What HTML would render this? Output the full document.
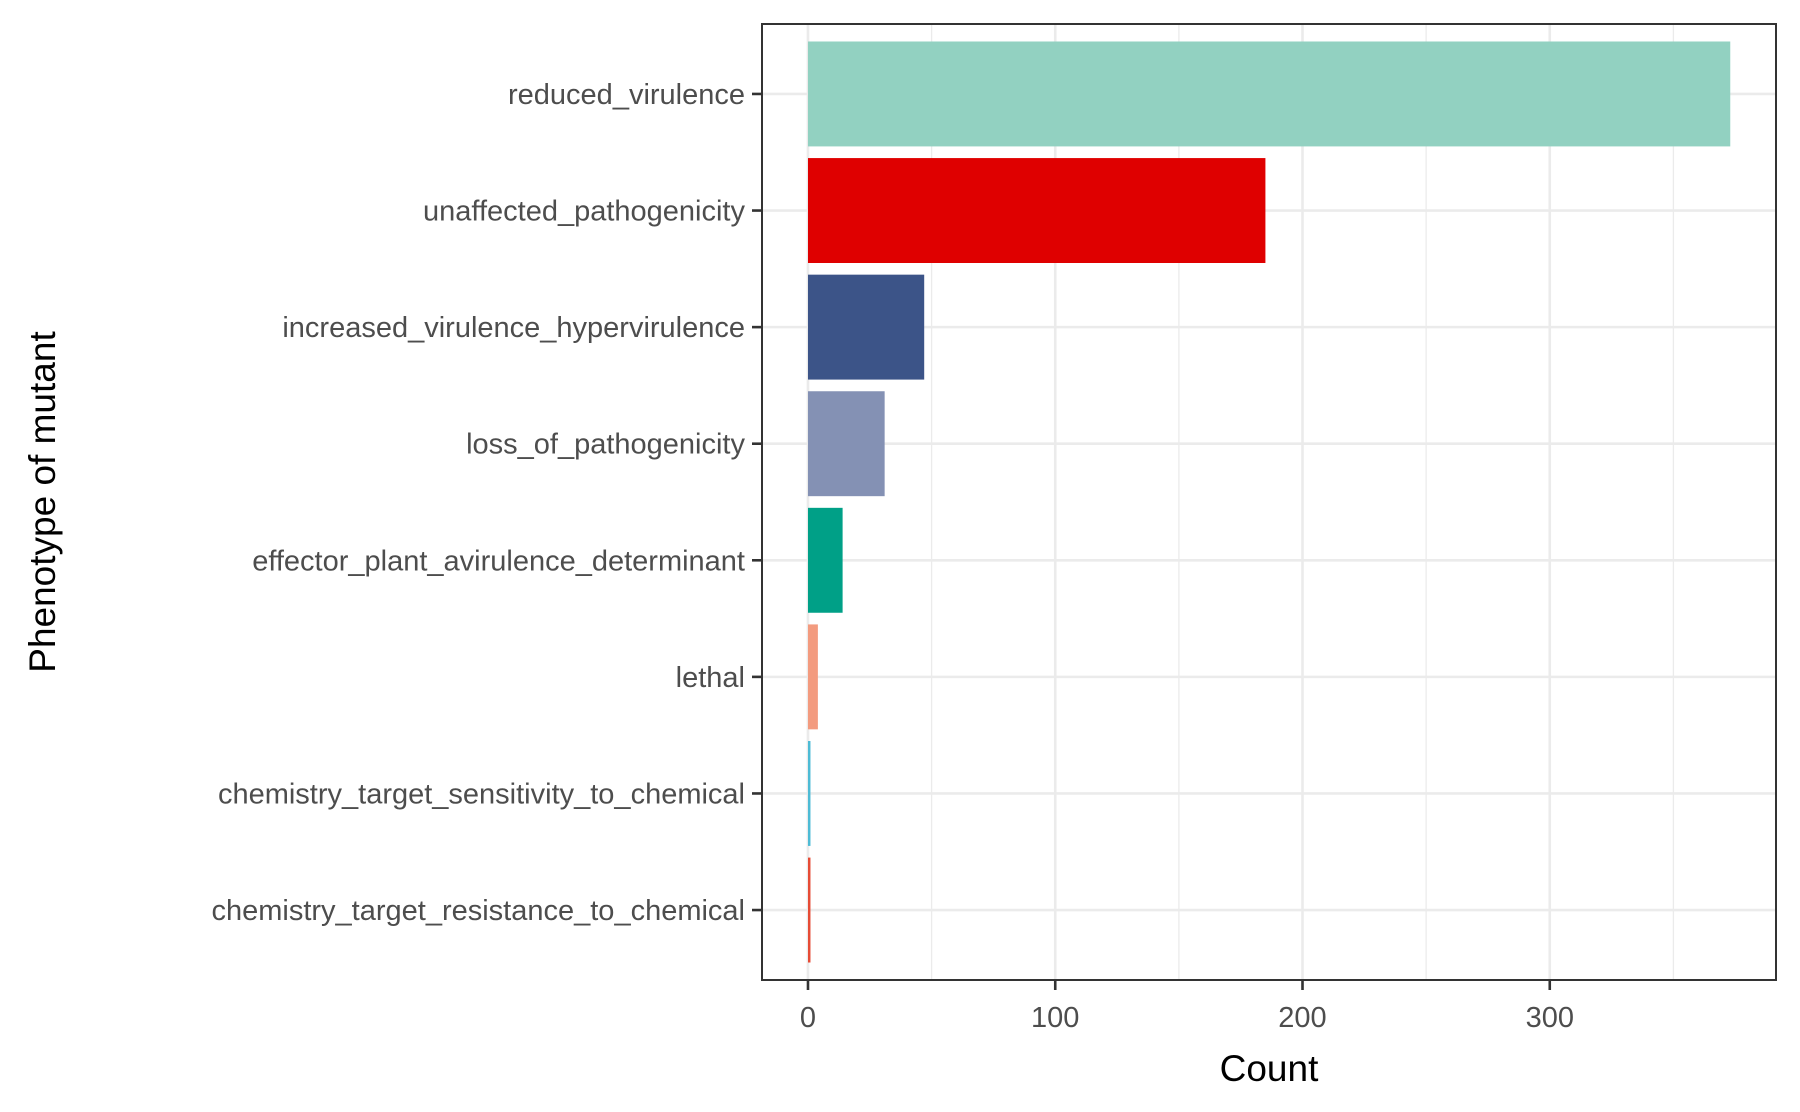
<!DOCTYPE html>
<html><head><meta charset="utf-8"><style>
html,body{margin:0;padding:0;background:#fff}
svg{display:block;font-family:"Liberation Sans",Arial,sans-serif}
</style></head><body>
<svg id="chart" width="1800" height="1112" viewBox="0 0 1800 1112" xmlns="http://www.w3.org/2000/svg">
<g id="grid"></g>
<g id="bars"></g>
<rect x="762" y="24" width="1014" height="956" fill="none" stroke="#333" stroke-width="2"/>
<g id="yaxis"></g>
<g id="xaxis"></g>
<text x="1269" y="1081" font-size="37" text-anchor="middle" fill="#000">Count</text>
<text transform="translate(55,502) rotate(-90)" font-size="37" text-anchor="middle" fill="#000">Phenotype of mutant</text>
</svg>
<script>
const categories = ["reduced_virulence","unaffected_pathogenicity","increased_virulence_hypervirulence","loss_of_pathogenicity","effector_plant_avirulence_determinant","lethal","chemistry_target_sensitivity_to_chemical","chemistry_target_resistance_to_chemical"];
const counts = [373,185,47,31,14,4,1,1];
const barColors = ["#92D1C1","#DF0000","#3C5488","#8491B4","#00A087","#F39B7F","#4DBBD5","#E64B35"];
const xTicks = [0,100,200,300];
const xMinor = [50,150,250,350];

const NS="http://www.w3.org/2000/svg";
const panel={left:762,right:1776,top:24,bottom:980};
const xMin=-18.6,xMax=391.5;
function xs(v){return panel.left+(v-xMin)/(xMax-xMin)*(panel.right-panel.left);}
const step=(panel.bottom-panel.top)/(categories.length-1+1.2);
function ys(i){return panel.top+(0.6+i)*step;}
function mk(tag,attrs,parent){const e=document.createElementNS(NS,tag);for(const k in attrs)e.setAttribute(k,attrs[k]);parent.appendChild(e);return e;}
const grid=document.getElementById('grid'),bars=document.getElementById('bars'),ya=document.getElementById('yaxis'),xa=document.getElementById('xaxis');
xMinor.forEach(v=>{const l=mk('line',{x1:xs(v),x2:xs(v),y1:panel.top,y2:panel.bottom,stroke:'#EBEBEB','stroke-width':1.3},grid);

});
xTicks.forEach(v=>{const l=mk('line',{x1:xs(v),x2:xs(v),y1:panel.top,y2:panel.bottom,stroke:'#EBEBEB','stroke-width':2.6},grid);

});
categories.forEach((c,i)=>{const l=mk('line',{x1:panel.left,x2:panel.right,y1:ys(i),y2:ys(i),stroke:'#EBEBEB','stroke-width':2.6},grid);

});
categories.forEach((c,i)=>{
 const h=step*0.9;
 const r=mk('rect',{x:xs(0),y:ys(i)-h/2,width:Math.max(0,xs(counts[i])-xs(0)),height:h,fill:barColors[i]},bars);
 
 
 const t=mk('line',{x1:panel.left-10,x2:panel.left,y1:ys(i),y2:ys(i),stroke:'#333','stroke-width':2.6},ya);
 
 
 const tx=mk('text',{x:panel.left-17,y:ys(i)+10,'font-size':29,'text-anchor':'end',fill:'#4D4D4D'},ya);
 tx.textContent=c;
 
 
});
xTicks.forEach(v=>{
 const t=mk('line',{x1:xs(v),x2:xs(v),y1:panel.bottom,y2:panel.bottom+10,stroke:'#333','stroke-width':2.6},xa);
 
 
 const tx=mk('text',{x:xs(v),y:panel.bottom+47,'font-size':29,'text-anchor':'middle',fill:'#4D4D4D'},xa);
 tx.textContent=String(v);
 
 
});
</script>
</body></html>
